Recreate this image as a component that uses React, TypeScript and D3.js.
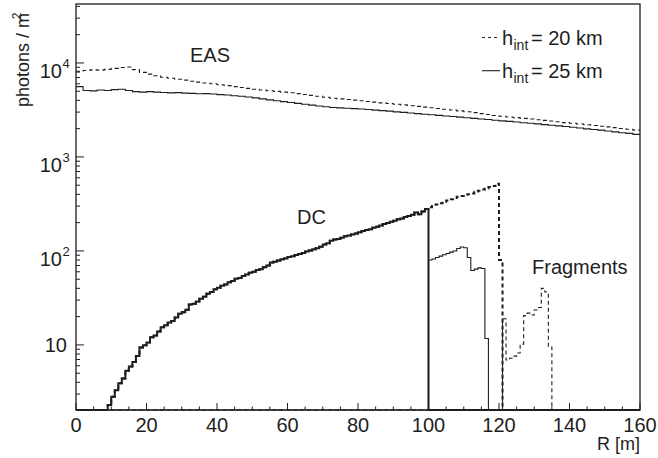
import React from "react";
import * as d3 from "d3";

// ---------------- data ----------------
const R_MIN = 0;
const R_MAX = 160;
const Y_MIN = 2.03;
const Y_MAX = 42400;

const xTickValues = [0, 20, 40, 60, 80, 100, 120, 140, 160];
const yDecades = [1, 2, 3, 4];

// EAS, bins of 2 m starting at R = 0
const easBinWidth = 2;
const eas20 = [
  8160, 8300, 8450, 8400, 8550, 8750, 8950, 9050, 8500, 7950,
  7600, 7300, 7050, 6880, 6720, 6560, 6400, 6250, 6130, 6000,
  5870, 5740, 5600, 5480, 5370, 5260, 5150, 5060, 4980, 4900,
  4820, 4720, 4620, 4520, 4420, 4320, 4220, 4150, 4080, 4020,
  3960, 3890, 3830, 3760, 3700, 3640, 3580, 3510, 3450, 3390,
  3340, 3280, 3220, 3160, 3090, 3030, 2960, 2890, 2830, 2760,
  2710, 2660, 2620, 2570, 2530, 2490, 2450, 2410, 2370, 2320,
  2280, 2240, 2200, 2160, 2120, 2090, 2050, 2010, 1970, 1930,
];
const eas25 = [
  5600, 5100, 5050, 5150, 5100, 5200, 5250, 5100, 4950, 4900,
  4950, 4900, 4850, 4800, 4830, 4780, 4750, 4700, 4720, 4680,
  4600, 4560, 4480, 4420, 4350, 4250, 4150, 4050, 3960, 3880,
  3800, 3720, 3640, 3560, 3480, 3420, 3360, 3330, 3300, 3270,
  3240, 3200, 3150, 3110, 3070, 3020, 2980, 2940, 2890, 2850,
  2810, 2770, 2730, 2690, 2650, 2610, 2570, 2530, 2500, 2460,
  2420, 2390, 2350, 2310, 2280, 2250, 2210, 2175, 2140, 2110,
  2070, 2030, 1990, 1960, 1930, 1890, 1850, 1810, 1780, 1740,
];

// DC, bins of 1 m; shared part from R = 9 to R = 99
const dcStart = 9;
const dcShared = [
  2.3, 2.8, 3.3, 3.9, 4.4, 5.3, 5.9, 6.6, 7.6, 9.4,
  9.9, 10.6, 12.1, 12.6, 13.9, 15.4, 16.2, 17.3, 18.0, 19.6,
  21.5, 22.3, 23.6, 26.9, 27.5, 29.0, 31.0, 32.5, 35.0, 36.6,
  39.0, 40.5, 42.6, 44.0, 46.5, 48.0, 50.5, 51.5, 54.0, 56.0,
  58.5, 60.0, 62.5, 64.0, 67.0, 70.0, 75.5, 76.5, 79.0, 81.5,
  83.0, 86.0, 88.0, 90.5, 93.0, 95.0, 98.5, 101, 104, 107,
  111, 117, 121, 128, 132, 134, 138, 143, 146, 150,
  153, 158, 163, 167, 170, 176, 181, 186, 194, 198,
  204, 210, 217, 222, 229, 236, 242, 256, 246, 262,
  280,
];
// DC tail for h_int = 20 km, R = 100 .. 120
const dc20Tail = [
  292, 300, 311, 322, 334, 343, 355, 366, 376, 385,
  395, 402, 409, 425, 438, 450, 462, 478, 490, 520,
  80,
];
// Fragments, h_int = 25 km, R = 100 .. 116
const frag25Start = 100;
const frag25 = [
  80, 82, 85, 88, 91, 94, 97, 100, 106, 110,
  108, 85, 62, 64, 66, 65, 11.7,
];
// Fragments, h_int = 20 km, R = 121 .. 134
const frag20Start = 121;
const frag20 = [
  19, 6.9, 7.2, 7.6, 8.2, 10.2, 20.5, 21.8, 20.8, 23.5,
  25, 40, 36.5, 9.5,
];

// ---------------- layout ----------------
const W = 658;
const H = 458;
const PL = 76;
const PR = 640;
const PT = 4;
const PB = 410;
const INK = "#1e1e1e";
const FONT = "'Liberation Sans', Arial, Helvetica, sans-serif";

const x = d3.scaleLinear().domain([R_MIN, R_MAX]).range([PL, PR]);
const y = d3.scaleLog().domain([Y_MIN, Y_MAX]).range([PB, PT]).clamp(true);

type P = { r: number; v: number };
function histPoints(start: number, width: number, vals: number[]): P[] {
  const pts: P[] = [];
  if (start > R_MIN) pts.push({ r: R_MIN, v: 0 });
  vals.forEach((v, i) => pts.push({ r: start + i * width, v }));
  const end = start + vals.length * width;
  pts.push({ r: end, v: 0 });
  if (end < R_MAX) pts.push({ r: R_MAX, v: 0 });
  return pts;
}
const line = d3
  .line<P>()
  .x((d) => x(d.r))
  .y((d) => y(Math.max(d.v, Y_MIN)))
  .curve(d3.curveStepAfter);

function easPath(vals: number[]) {
  const pts: P[] = vals.map((v, i) => ({ r: i * easBinWidth, v }));
  pts.push({ r: vals.length * easBinWidth, v: vals[vals.length - 1] });
  return line(pts) || "";
}

const dc25Path = line(histPoints(dcStart, 1, dcShared)) || "";
const dc20Path = line(histPoints(dcStart, 1, [...dcShared, ...dc20Tail])) || "";
const frag25Path = line(histPoints(frag25Start, 1, frag25)) || "";
const frag20Path = line(histPoints(frag20Start, 1, frag20)) || "";

const xMinor = d3.range(R_MIN, R_MAX + 0.01, 5);
const yMinor = y.ticks();

export default function App() {
  return (
    <svg
      width={W}
      height={H}
      style={{ position: "absolute", left: 0, top: 0, background: "#fff" }}
      fontFamily={FONT}
    >
      <defs>
        <clipPath id="plot">
          <rect x={PL} y={PT} width={PR - PL} height={PB - PT + 1} />
        </clipPath>
      </defs>
      <rect width={W} height={H} fill="#fff" />

      <g clipPath="url(#plot)" fill="none" stroke={INK}>
        <path d={easPath(eas20)} strokeWidth={1.1} strokeDasharray="4,3" />
        <path d={easPath(eas25)} strokeWidth={1.1} />
        <path d={frag25Path} strokeWidth={1.1} />
        <path d={frag20Path} strokeWidth={1.1} strokeDasharray="4,3" />
        <path d={dc25Path} strokeWidth={2} />
        <path d={dc20Path} strokeWidth={2} strokeDasharray="4,3" />
      </g>

      {/* frame */}
      <rect x={PL} y={PT} width={PR - PL} height={PB - PT} fill="none" stroke={INK} strokeWidth={1.3} />

      {/* x ticks */}
      {xMinor.map((t) => (
        <line
          key={"xt" + t}
          x1={x(t)}
          x2={x(t)}
          y1={PB}
          y2={PB - (t % 20 === 0 ? 7 : 3.5)}
          stroke={INK}
          strokeWidth={1}
        />
      ))}
      {xTickValues.map((t) => (
        <text key={"xl" + t} x={x(t)} y={432} fontSize={20} textAnchor="middle" fill={INK}>
          {String(t)}
        </text>
      ))}
      <text x={PR} y={450} fontSize={18} textAnchor="end" fill={INK}>
        R [m]
      </text>

      {/* y ticks */}
      {yMinor.map((t, i) => {
        const major = Math.abs(Math.log10(t) - Math.round(Math.log10(t))) < 1e-9;
        return (
          <line
            key={"yt" + i}
            x1={PL}
            x2={PL + (major ? 8 : 4)}
            y1={y(t)}
            y2={y(t)}
            stroke={INK}
            strokeWidth={1}
          />
        );
      })}
      {yDecades.map((d) => {
        const ty = y(Math.pow(10, d));
        if (d === 1) {
          return (
            <text key={"yl" + d} x={67} y={ty + 7.5} fontSize={20} textAnchor="end" fill={INK}>
              10
            </text>
          );
        }
        return (
          <g key={"yl" + d} fill={INK}>
            <text x={62} y={ty + 15} fontSize={20} textAnchor="end">
              10
            </text>
            <text x={62.5} y={ty + 5} fontSize={13} textAnchor="start">
              {String(d)}
            </text>
          </g>
        );
      })}
      <g transform={`translate(29,${PT}) rotate(-90)`} fill={INK}>
        <text x={-9} y={0} fontSize={18} textAnchor="end">
          photons / m
        </text>
        <text x={-8.5} y={-8} fontSize={12} textAnchor="end">
          2
        </text>
      </g>

      {/* annotations */}
      <text x={190} y={61.5} fontSize={20} fill={INK}>EAS</text>
      <text x={297} y={223.5} fontSize={20} fill={INK}>DC</text>
      <text x={532} y={274} fontSize={20} fill={INK}>Fragments</text>

      {/* legend */}
      <line x1={482} x2={500} y1={37.5} y2={37.5} stroke={INK} strokeWidth={1.1} strokeDasharray="3,3" />
      <text x={502} y={45} fontSize={20} fill={INK}>h</text>
      <text x={513.5} y={49.5} fontSize={14} fill={INK}>int</text>
      <text x={531} y={45} fontSize={20} fill={INK}>= 20 km</text>

      <line x1={482} x2={500} y1={70.7} y2={70.7} stroke={INK} strokeWidth={1.1} />
      <text x={502} y={78.3} fontSize={20} fill={INK}>h</text>
      <text x={513.5} y={82.8} fontSize={14} fill={INK}>int</text>
      <text x={531} y={78.3} fontSize={20} fill={INK}>= 25 km</text>
    </svg>
  );
}
